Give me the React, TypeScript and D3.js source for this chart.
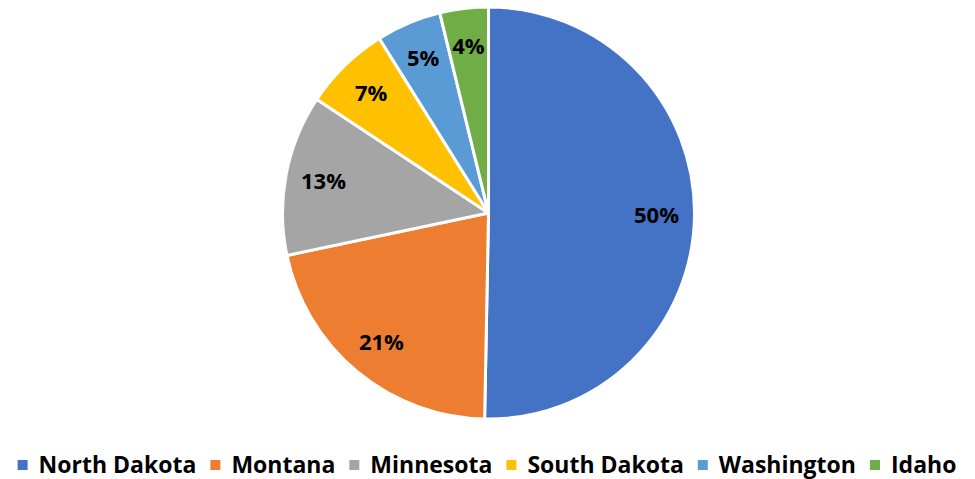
import React, { useEffect, useRef } from "react";
import * as d3 from "d3";

const categories = ["North Dakota", "Montana", "Minnesota", "South Dakota", "Washington", "Idaho"];
const values = [50.3, 21.4, 12.6, 6.8, 5.1, 3.8];
const colors = ["#4472C4", "#ED7D31", "#A5A5A5", "#FFC000", "#5B9BD5", "#70AD47"];

const W = 975;
const H = 479;
const FONT = "'Open Sans', sans-serif";

export default function App() {
  const ref = useRef<SVGSVGElement | null>(null);

  useEffect(() => {
    const svg = d3.select(ref.current);
    svg.selectAll("*").remove();

    const cx = 488.5;
    const cy = 213;
    const r = 206;
    const labelR = 168;
    const total = d3.sum(values);

    const data = categories.map((c, i) => ({ name: c, value: values[i], color: colors[i] }));
    const pie = d3.pie<any>().value((d: any) => d.value).sort(null).startAngle(0).endAngle(2 * Math.PI);
    const arcs = pie(data);
    const arc = d3.arc<any>().innerRadius(0).outerRadius(r);
    const labelArc = d3.arc<any>().innerRadius(labelR).outerRadius(labelR);

    const g = svg.append("g").attr("transform", `translate(${cx},${cy})`);
    g.selectAll("path.slice")
      .data(arcs)
      .join("path")
      .attr("class", "slice")
      .attr("d", arc as any)
      .attr("fill", (d: any) => d.data.color)
      .attr("stroke", "#fff")
      .attr("stroke-width", 3)
      .attr("stroke-linejoin", "round");

    g.selectAll("text.lbl")
      .data(arcs)
      .join("text")
      .attr("class", "lbl")
      .attr("transform", (d: any) => `translate(${labelArc.centroid(d)})`)
      .attr("text-anchor", "middle")
      .attr("dy", "0.36em")
      .attr("font-family", FONT)
      .attr("font-weight", 700)
      .attr("font-size", 22)
      .attr("fill", "#000")
      .text((d: any) => `${Math.round((d.data.value / total) * 100)}%`);

    // legend
    const legend = svg.append("g");
    const sq = 10;
    const gapSqText = 11;
    const gapItems = 14;
    const baseline = 473;
    const items = legend.selectAll("g.item").data(data).join("g").attr("class", "item");
    items
      .append("rect")
      .attr("width", sq)
      .attr("height", sq)
      .attr("y", baseline - 13)
      .attr("fill", (d: any) => d.color);
    const texts = items
      .append("text")
      .attr("y", baseline)
      .attr("font-family", FONT)
      .attr("font-weight", 700)
      .attr("font-size", 23)
      .attr("fill", "#000")
      .text((d: any) => d.name);
    const widths: number[] = [];
    texts.each(function () {
      widths.push((this as SVGTextElement).getComputedTextLength());
    });
    let x = 0;
    const offsets: number[] = [];
    widths.forEach((w, i) => {
      offsets.push(x);
      x += sq + gapSqText + w + (i < widths.length - 1 ? gapItems : 0);
    });
    const totalW = x;
    const startX = 487 - totalW / 2;
    items.attr("transform", (_d: any, i: number) => `translate(${startX + offsets[i]},0)`);
    texts.attr("x", sq + gapSqText);
  }, []);

  return (
    <svg
      ref={ref}
      width={W}
      height={H}
      style={{ position: "absolute", left: 0, top: 0, background: "#fff" }}
    />
  );
}
